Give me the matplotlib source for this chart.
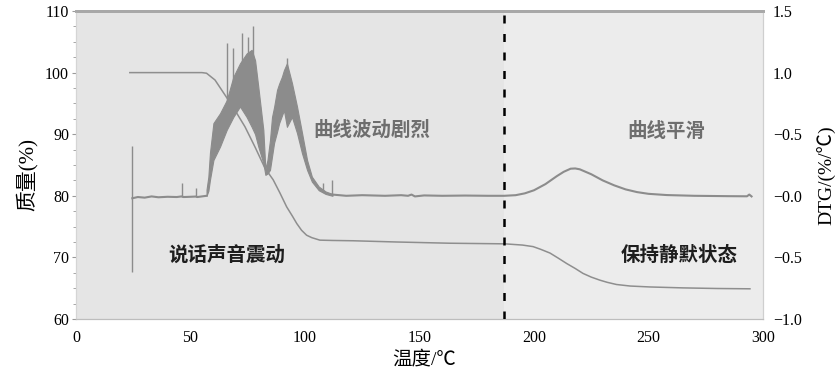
import matplotlib
matplotlib.use("Agg")
import matplotlib.pyplot as plt

# ---------------- data ----------------
# Mass curve (left axis, %)
mass_x = [23.5, 40, 55, 57, 60.7, 65, 69.4, 73.8, 78.2, 82.5, 86.1, 89, 92, 94.5,
          96.4, 98.5, 100.7, 103, 106.5, 112, 121, 140, 163.3, 187.3, 195, 199.6,
          203, 207, 210.5, 214.3, 218, 221.4, 225, 228.8, 232, 236, 242, 250.6,
          265, 280, 294.3]
mass_y = [100.0, 100.0, 100.0, 99.9, 98.8, 96.4, 93.9, 91.2, 87.9, 84.5, 82.6, 80.5,
          78.2, 76.7, 75.5, 74.4, 73.6, 73.2, 72.8, 72.75, 72.7, 72.5, 72.3, 72.2,
          72.0, 71.75, 71.3, 70.7, 69.9, 69.0, 68.2, 67.4, 66.8, 66.3, 65.95, 65.6,
          65.35, 65.2, 65.05, 64.95, 64.9]

# DTG baseline / smooth parts (right axis, %/℃)
dtg_x = [24.6, 27, 30, 33, 36, 40, 44, 46.1, 47, 50, 52.4, 53, 55, 57.0,
         112, 118, 125, 135, 142, 145, 146.5, 148, 152, 160, 170, 180, 187,
         192, 196, 200, 205, 210, 213, 216, 218, 220, 225, 230, 235, 240, 245,
         250, 258, 270, 285, 293, 294, 295]
dtg_y = [-0.02, -0.01, -0.015, -0.005, -0.012, -0.008, -0.01, -0.005, -0.01, -0.008,
         -0.006, -0.01, -0.005, 0.0,
         0.01, 0.0, 0.005, 0.0, 0.005, 0.0, 0.01, -0.005, 0.003, 0.0, 0.002, 0.0, 0.0,
         0.005, 0.02, 0.045, 0.095, 0.16, 0.195, 0.22, 0.222, 0.215, 0.175, 0.125,
         0.085, 0.052, 0.03, 0.016, 0.006, 0.0, -0.003, -0.004, 0.01, -0.005]

# DTG noisy band (violent fluctuation region): upper & lower envelopes
band_x = [57.0, 57.8, 58.5, 60.0, 62.9, 65.8, 68.7, 71.6, 74.5, 76.7, 78.2, 79.6,
          81.8, 82.7, 83.6, 84.7, 85.6, 86.5, 87.8, 88.7, 89.9, 90.8, 92.1, 94.3,
          96.5, 98.7, 100.9, 103, 106, 109, 112]
band_hi = [0.05, 0.155, 0.35, 0.59, 0.67, 0.775, 0.965, 1.075, 1.155, 1.185, 1.10,
           0.885, 0.535, 0.215, 0.29, 0.45, 0.64, 0.72, 0.86, 0.91, 0.965, 1.02,
           1.075, 0.915, 0.725, 0.51, 0.29, 0.155, 0.075, 0.035, 0.015]
band_lo = [0.0, 0.04, 0.13, 0.29, 0.40, 0.535, 0.64, 0.725, 0.64, 0.56, 0.50, 0.40,
           0.265, 0.17, 0.18, 0.21, 0.32, 0.43, 0.52, 0.59, 0.65, 0.695, 0.56, 0.64,
           0.51, 0.345, 0.21, 0.115, 0.045, 0.015, 0.0]

# individual spikes in the DTG record: x, bottom, top
spike_x = [24.4, 46.1, 52.4, 65.8, 68.7, 72.3, 75.1, 77.4, 92.1, 108.0, 111.6]
spike_lo = [-0.62, -0.01, -0.01, 0.6, 0.7, 0.8, 0.8, 0.8, 0.8, 0.03, 0.01]
spike_hi = [0.405, 0.10, 0.065, 1.24, 1.20, 1.32, 1.29, 1.375, 1.12, 0.10, 0.13]

divide_x = 187

x_ticks = [0, 50, 100, 150, 200, 250, 300]
left_ticks = [60, 70, 80, 90, 100, 110]
right_ticks = [1.5, 1.0, 0.5, 0.0, -0.5, -1.0]
right_labels = ["1.5", "1.0", "\u22120.5", "\u22120.0", "\u22120.5", "\u22121.0"]

# ---------------- figure ----------------
serif = ["Liberation Serif", "Noto Sans CJK SC"]
cjk = ["Noto Sans CJK SC", "DejaVu Sans"]
curve_col = "#8c8c8c"

fig = plt.figure(figsize=(8.37, 3.72), dpi=100)
ax = fig.add_axes([0.0908, 0.1425, 0.8208, 0.8279])
ax.set_facecolor("#ececec")
ax.axvspan(0, divide_x, color="#e5e5e5", lw=0, zorder=0)

ax.set_xlim(0, 300)
ax.set_ylim(60, 110)
ax.set_xticks(x_ticks)
ax.set_xticklabels([str(t) for t in x_ticks], family=serif, fontsize=11.5)
ax.set_yticks(left_ticks)
ax.set_yticklabels([str(t) for t in left_ticks], family=serif, fontsize=11.5)
ax.set_yticks([60 + 2.5 * i for i in range(21)], minor=True)
ax.tick_params(axis="x", length=0, pad=8)
ax.tick_params(axis="y", which="major", length=3, color="#999999", pad=2)
ax.tick_params(axis="y", which="minor", length=2, color="#999999")

ax.plot(mass_x, mass_y, color="#8e8e8e", lw=1.1, zorder=3)

ax2 = ax.twinx()
ax2.set_ylim(-1.0, 1.5)
ax2.set_yticks(right_ticks)
ax2.set_yticklabels(right_labels, family=serif, fontsize=11.5)
ax2.tick_params(axis="y", length=0, pad=7)

ax2.plot(dtg_x[:14], dtg_y[:14], color=curve_col, lw=1.5, zorder=3)
ax2.plot(dtg_x[14:], dtg_y[14:], color=curve_col, lw=1.5, zorder=3)
ax2.fill_between(band_x, band_lo, band_hi, facecolor=curve_col, lw=0.8,
                 edgecolor=curve_col, zorder=3)
ax2.vlines(spike_x, spike_lo, spike_hi, color=curve_col, lw=1.0, zorder=3)

ax2.axvline(divide_x, color="black", lw=1.8, dashes=(3.2, 4.2), zorder=4)

for a in (ax, ax2):
    a.spines["top"].set_color("#a8a8a8")
    a.spines["top"].set_linewidth(2.0)
    a.spines["right"].set_color("#cfcfcf")
    a.spines["bottom"].set_color("#bdbdbd")
    a.spines["left"].set_color("#d5d5d5")

# annotations
ax.text(129, 90.7, "曲线波动剧烈", family=cjk, fontsize=14, fontweight="bold",
        color="#6e6e6e", ha="center", va="center")
ax.text(258, 90.5, "曲线平滑", family=cjk, fontsize=14, fontweight="bold",
        color="#6e6e6e", ha="center", va="center")
ax.text(66, 70.4, "说话声音震动", family=cjk, fontsize=14, fontweight="bold",
        color="#1e1e1e", ha="center", va="center")
ax.text(263.5, 70.4, "保持静默状态", family=cjk, fontsize=14, fontweight="bold",
        color="#1e1e1e", ha="center", va="center")

# axis labels
fig.text(0.5065, 0.035, "温度/℃", family=serif, fontsize=14, ha="center", va="center")
fig.text(0.032, 0.53, "质量(%)", family=serif, fontsize=15, rotation=90,
         ha="center", va="center")
fig.text(0.988, 0.53, "DTG/(%/℃)", family=serif, fontsize=14, rotation=90,
         ha="center", va="center")

fig.savefig("out.png", dpi=100)
